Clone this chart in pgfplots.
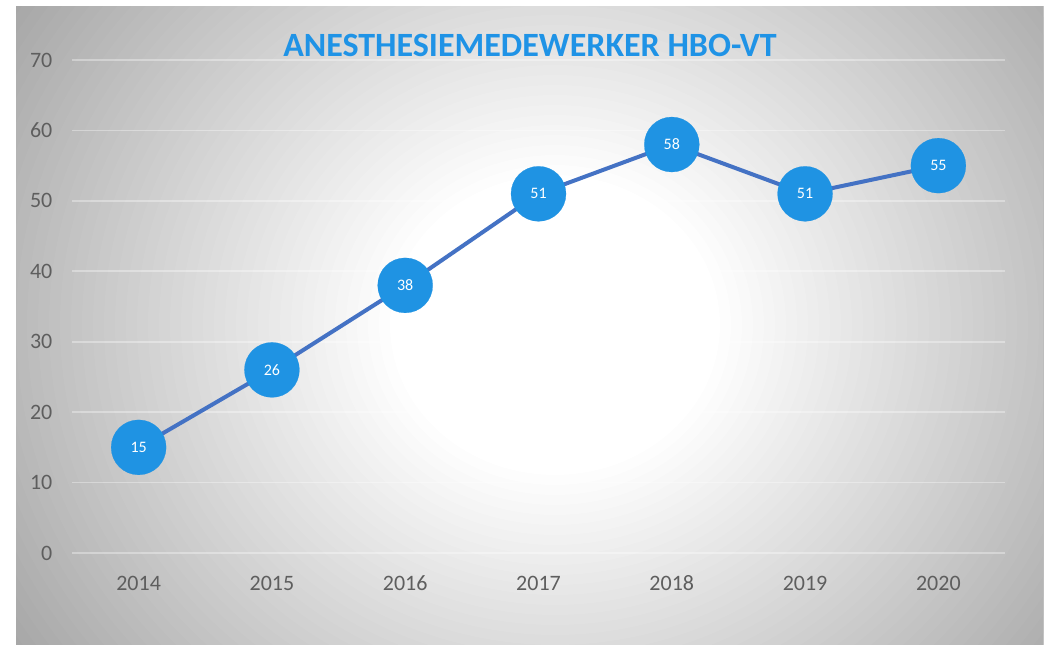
\documentclass[border=0pt]{standalone}
\usepackage{pgfplots}
\pgfplotsset{compat=1.18}
\usepackage{fontspec}
\setmainfont{Carlito}

\definecolor{dotblue}{HTML}{1F93E3}
\definecolor{lineblue}{HTML}{4472C4}
\definecolor{titleblue}{HTML}{1F93E6}
\definecolor{tickgray}{HTML}{5E5E5E}

\begin{document}
\begin{tikzpicture}
\useasboundingbox[fill=white] (-36pt,-45.5pt) rectangle (487.5pt,276.5pt);
% background: radial grey to white, built from rings
\begin{scope}
\clip (-28pt,-45.5pt) rectangle (485.5pt,273pt);
\foreach \i in {0,...,47} {
  \pgfmathtruncatemacro{\g}{min(255,161+2*\i)}
  \pgfmathsetmacro{\r}{310-5*\i}
  \pgfmathsetmacro{\rx}{1.1*\r}
  \definecolor{ring}{RGB}{\g,\g,\g}
  \fill[ring] (241.5pt,114pt) ellipse [x radius=\rx pt, y radius=\r pt];
}
\fill[white] (241.5pt,114pt) ellipse [x radius=82.5pt, y radius=75pt];
\end{scope}
\begin{axis}[
  at={(0,0)}, anchor=south west,
  scale only axis,
  width=466.5pt, height=246.5pt,
  xmin=-0.5, xmax=6.5,
  ymin=0, ymax=70,
  xtick={0,...,6},
  xticklabels={2014,2015,2016,2017,2018,2019,2020},
  ytick={0,10,...,70},
  axis line style={draw=none},
  major tick length=0pt,
  ymajorgrids=true,
  grid style={white, opacity=0.35, line width=0.8pt},
  tick label style={font=\fontsize{11}{13}\selectfont, text=tickgray},
  /pgf/number format/assume math mode=true,
  yticklabel style={anchor=east, xshift=-6.3pt},
  xticklabel style={anchor=center, yshift=-15pt},
  clip=false,
]
\addplot[color=lineblue, line width=2pt, mark=*, mark size=13.75pt,
  mark options={fill=dotblue, draw=dotblue, line width=0.1pt},
  nodes near coords,
  nodes near coords style={anchor=center, text=white, font=\fontsize{8}{9}\selectfont},
  /pgf/number format/assume math mode=true]
  coordinates {(0,15) (1,26) (2,38) (3,51) (4,58) (5,51) (6,55)};
\end{axis}
\node[font=\bfseries\fontsize{17}{20}\selectfont, text=titleblue] at (229pt,254pt) {ANESTHESIEMEDEWERKER HBO-VT};
\end{tikzpicture}
\end{document}
